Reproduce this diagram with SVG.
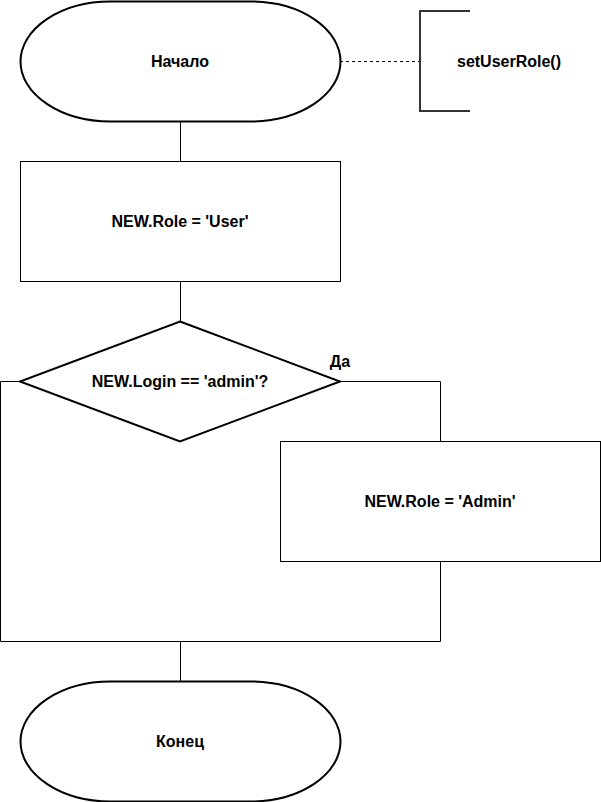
<svg xmlns="http://www.w3.org/2000/svg" width="601" height="802" viewBox="0 0 601 802">
  <style>
    .term { fill: #ffffff; stroke: #000000; stroke-width: 2; }
    .box { fill: #ffffff; stroke: #000000; stroke-width: 1; }
    .dec { fill: #ffffff; stroke: #000000; stroke-width: 2; }
    .edge { fill: none; stroke: #000000; stroke-width: 1; }
    .note { fill: none; stroke: #333333; stroke-width: 2; }
    .dash { fill: none; stroke: #000000; stroke-width: 1; stroke-dasharray: 3 3; }
    text { font-family: "Liberation Sans", Arial, sans-serif; font-size: 16px; font-weight: bold; fill: #000000; }
    .c { text-anchor: middle; dominant-baseline: central; }
  </style>
  <rect width="601" height="802" fill="#ffffff"/>

  <!-- connectors -->
  <g id="edges">
    <path class="edge" d="M180.5 121 V161"/>
    <path class="edge" d="M180.5 281 V321"/>
    <path class="edge" d="M340 381.5 H440.5 V441"/>
    <path class="edge" d="M20 381.5 H0.5 V641.5 H440.5 V561"/>
    <path class="edge" d="M180.5 641.5 V681"/>
    <path class="dash" d="M340 61.5 H420"/>
    <text x="340" y="361" class="c">Да</text>
  </g>

  <g id="start">
    <rect class="term" x="20.5" y="1.5" width="320" height="120" rx="90" ry="60"/>
    <text x="180" y="61.5" class="c">Начало</text>
  </g>

  <g id="annotation">
    <path class="note" d="M470 11 H420 V111 H470"/>
    <text x="509" y="61.5" class="c">setUserRole()</text>
  </g>

  <g id="setUser">
    <rect class="box" x="20.5" y="161.5" width="320" height="120"/>
    <text x="180" y="221.5" class="c">NEW.Role = 'User'</text>
  </g>

  <g id="check">
    <polygon class="dec" points="180,321.5 340,381.5 180,441.5 20,381.5"/>
    <text x="180" y="381.5" class="c">NEW.Login == 'admin'?</text>
  </g>

  <g id="setAdmin">
    <rect class="box" x="280.5" y="441.5" width="320" height="120"/>
    <text x="440" y="501.5" class="c">NEW.Role = 'Admin'</text>
  </g>

  <g id="end">
    <rect class="term" x="20.5" y="681.5" width="320" height="120" rx="90" ry="60"/>
    <text x="180" y="741.5" class="c">Конец</text>
  </g>
</svg>
